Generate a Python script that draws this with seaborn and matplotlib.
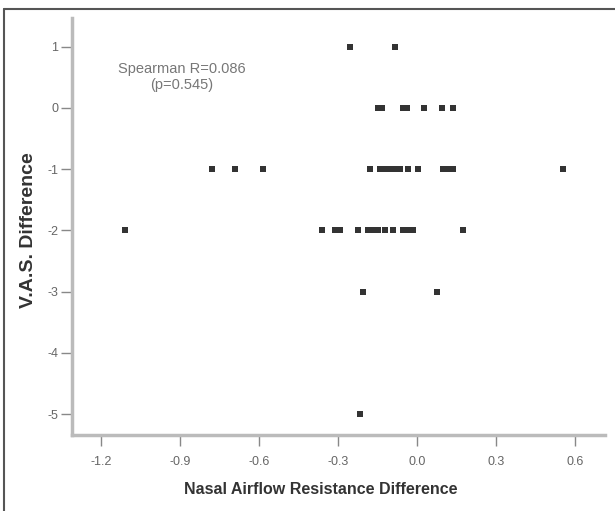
import matplotlib
matplotlib.use("Agg")
import matplotlib.pyplot as plt
import seaborn as sns
import pandas as pd
from matplotlib.lines import Line2D

# Values (x grouped by V.A.S. level)
vas_levels = [1, 0, -1, -2, -3, -5]
airflow_by_level = [
    [-0.255, -0.084],
    [-0.148, -0.133, -0.053, -0.038, 0.027, 0.095, 0.137],
    [-0.779, -0.692, -0.586, -0.179, -0.141, -0.122, -0.103, -0.084, -0.065,
     -0.034, 0.004, 0.099, 0.118, 0.137, 0.555],
    [-1.110, -0.361, -0.312, -0.293, -0.224, -0.186, -0.167, -0.148, -0.122,
     -0.091, -0.053, -0.034, -0.015, 0.175],
    [-0.205, 0.076],
    [-0.217],
]
x_ticks = [-1.2, -0.9, -0.6, -0.3, 0.0, 0.3, 0.6]
y_ticks = [1, 0, -1, -2, -3, -4, -5]
annotation = "Spearman R=0.086\n(p=0.545)"

xs, ys = [], []
for level, vals in zip(vas_levels, airflow_by_level):
    xs.extend(vals)
    ys.extend([level] * len(vals))
df = pd.DataFrame({"Nasal Airflow Resistance Difference": xs, "V.A.S. Difference": ys})

sns.set_style("white")
plt.rcParams['font.family'] = ['Liberation Sans', 'DejaVu Sans']
plt.rcParams['axes.unicode_minus'] = False

fig = plt.figure(figsize=(6.15, 5.11), dpi=100)
ax = fig.add_axes([0.117, 0.149, 0.867, 0.816])

sns.scatterplot(data=df, x="Nasal Airflow Resistance Difference", y="V.A.S. Difference",
                ax=ax, color="#333333", marker="s", s=13, linewidth=0)

ax.set_xlim(-1.31, 0.714)
ax.set_ylim(-5.34, 1.47)
ax.set_xticks(x_ticks)
ax.set_xticklabels([f"{v:.1f}" for v in x_ticks])
ax.set_yticks(y_ticks)
ax.set_yticklabels([str(v) for v in y_ticks])

for side in ["top", "right"]:
    ax.spines[side].set_visible(False)
for side in ["left", "bottom"]:
    ax.spines[side].set_color("#bbbbbb")
    ax.spines[side].set_linewidth(2.5)
ax.tick_params(axis="both", direction="out", length=8, width=1, color="#888888",
               labelcolor="#666666", labelsize=9)
ax.tick_params(axis="x", pad=7)
ax.tick_params(axis="y", pad=2)
ax.tick_params(left=True, bottom=True)

ax.set_xlabel("Nasal Airflow Resistance Difference", fontsize=11.5, fontweight="bold",
              color="#333333")
ax.set_ylabel("V.A.S. Difference", fontsize=14, fontweight="bold", color="#333333")
ax.xaxis.set_label_coords(0.467, -0.113)
ax.yaxis.set_label_coords(-0.066, 0.49)

ax.text(-0.892, 0.51, annotation, ha="center", va="center", fontsize=10.5, color="#777777",
        linespacing=1.2)

# outer frame: only the top and left edges show in the reference
fig.add_artist(Line2D([0.0057, 1.0], [0.983, 0.983], transform=fig.transFigure,
                      color="#555555", linewidth=1.5))
fig.add_artist(Line2D([0.0057, 0.0057], [0.0, 0.983], transform=fig.transFigure,
                      color="#555555", linewidth=1.5))

fig.savefig("out.png", dpi=100)
